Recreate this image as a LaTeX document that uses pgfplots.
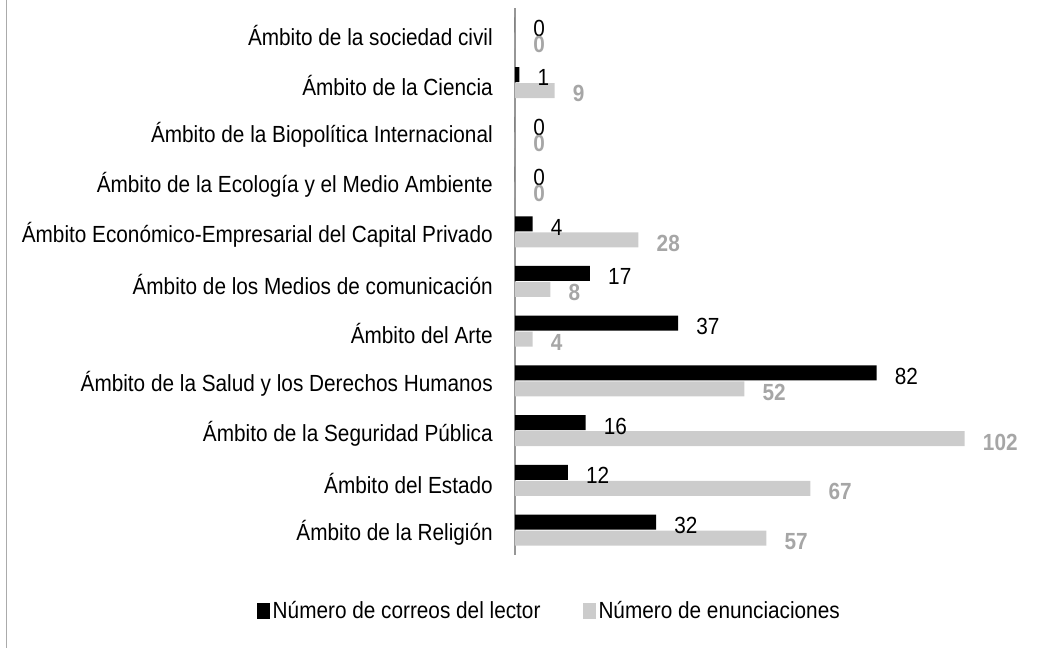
\documentclass[border=0pt]{standalone}
\usepackage{fontspec}
\setmainfont{Liberation Sans}[FakeStretch=0.89]
\usepackage{pgfplots}
\pgfplotsset{compat=1.18}
\definecolor{barblack}{RGB}{0,0,0}
\definecolor{bargray}{RGB}{204,204,204}
\definecolor{numgray}{RGB}{166,166,166}
\definecolor{axisgray}{RGB}{150,150,150}
\newcommand{\myfont}{\fontsize{17.5pt}{21pt}\selectfont}
\begin{document}
\myfont
\begin{tikzpicture}
\path[use as bounding box] (0,0) rectangle (798pt,486pt);
\draw[axisgray!80, line width=1.2pt] (5pt,0) -- (5pt,486pt);
\begin{axis}[
  at={(386.25pt,69.75pt)}, anchor=south west,
  scale only axis, width=363.75pt, height=410.25pt,
  xmin=0, xmax=110, ymin=-0.5, ymax=10.5,
  clip=false,
  xbar, bar width=11.25pt,
  axis x line=none,
  axis y line*=left,
  y axis line style={axisgray, line width=1.1pt, -},
  major tick length=0pt,
  ytick={0,...,10},
  yticklabels={Ámbito de la Religión, Ámbito del Estado, Ámbito de la Seguridad Pública, Ámbito de la Salud y los Derechos Humanos, Ámbito del Arte, Ámbito de los Medios de comunicación, Ámbito Económico-Empresarial del Capital Privado, Ámbito de la Ecología y el Medio Ambiente, Ámbito de la Biopolítica Internacional, Ámbito de la Ciencia, Ámbito de la sociedad civil},
  yticklabel style={font=\myfont, anchor=east, inner sep=0pt, xshift=-16.5pt, yshift=-2pt},
  /pgf/number format/assume math mode=true,
  nodes near coords,
  nodes near coords style={font=\myfont, anchor=west, inner sep=0pt, xshift=13.5pt, yshift=-2.5pt},
  legend columns=2,
  legend style={draw=none, fill=none, at={(0.072,-0.104)}, anchor=center, font=\myfont,
    /tikz/every even column/.append style={column sep=30pt},
    nodes={inner sep=2pt}},
  legend image code/.code={\fill[#1] (0pt,-5pt) rectangle (9.5pt,6.5pt);},
]
\addplot[fill=barblack, draw=none, bar shift=6pt, nodes near coords style={text=black}] coordinates {
 (32,0) (12,1) (16,2) (82,3) (37,4) (17,5) (4,6) (0,7) (0,8) (1,9) (0,10)};
\addlegendentry{Número de correos del lector}
\addplot[fill=bargray, draw=none, bar shift=-6pt, nodes near coords style={text=numgray, font=\myfont\bfseries}] coordinates {
 (57,0) (67,1) (102,2) (52,3) (4,4) (8,5) (28,6) (0,7) (0,8) (9,9) (0,10)};
\addlegendentry{Número de enunciaciones}
\end{axis}
\end{tikzpicture}
\end{document}
